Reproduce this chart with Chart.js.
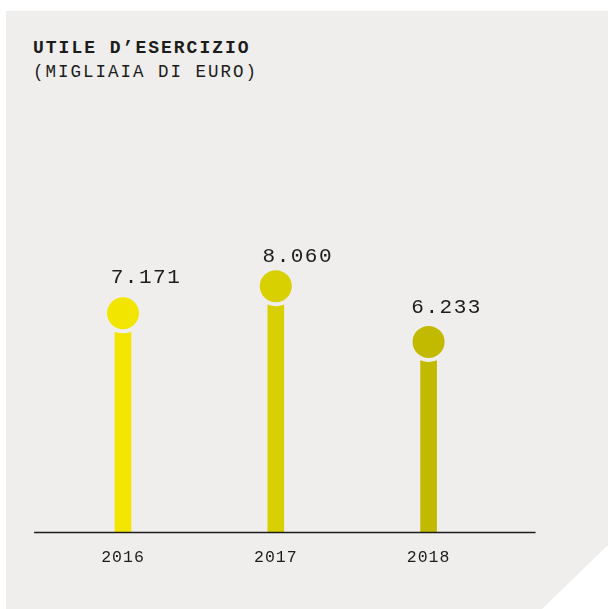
<!DOCTYPE html>
<html lang="it">
<head>
<meta charset="utf-8">
<title>Utile d'esercizio</title>
<script src="https://cdn.jsdelivr.net/npm/chart.js@4"></script>
<style>
  html, body { margin: 0; padding: 0; background: #ffffff; }
  body { width: 608px; height: 609px; position: relative; overflow: hidden; }
  .panel {
    position: absolute; left: 6px; top: 11px; right: 0; bottom: 0;
    background: #efeeec;
    clip-path: polygon(0 0, 100% 0, 100% 534px, 536px 100%, 0 100%);
  }
  .title, .subtitle {
    position: absolute; left: 33px; margin: 0;
    font-family: "Liberation Mono", "DejaVu Sans Mono", monospace;
    color: #1c1c1c; white-space: nowrap;
  }
  .title { top: 38px; font-size: 18px; line-height: 20px; font-weight: bold; letter-spacing: 2px; }
  .subtitle { top: 62px; font-size: 17.5px; line-height: 20px; letter-spacing: 2px; }
  #wrap { position: absolute; left: 0; top: 0; width: 608px; height: 609px; }
</style>
</head>
<body>
<div class="panel"></div>
<div class="title">UTILE D’ESERCIZIO</div>
<div class="subtitle">(MIGLIAIA DI EURO)</div>
<div id="wrap"><canvas id="chart"></canvas></div>

<script>
  const years = ["2016", "2017", "2018"];
  const utile = [7171, 8060, 6233];
  const yellows = ["#f2e600", "#d8d000", "#c2ba00"];

  // where each value label sits relative to its dot (px)
  const labelShiftX = [23, 22, 18];
  const labelLift = [36, 30, 34];

  const PANEL = "#efeeec";
  const INK = "#1c1c1c";
  const MONO = '"Liberation Mono", "DejaVu Sans Mono", monospace';

  // "7.171" style: thousands separated by a dot
  const fmt = (v) => v.toLocaleString("it-IT");

  // baseline longer than the plot area, plus the numbers over each dot
  const lollipopExtras = {
    id: "lollipopExtras",
    beforeDraw(chart) {
      chart.ctx.letterSpacing = "1px";
    },
    afterDatasetsDraw(chart) {
      const { ctx, chartArea } = chart;
      ctx.save();
      ctx.strokeStyle = INK;
      ctx.lineWidth = 1.3;
      ctx.beginPath();
      ctx.moveTo(chartArea.left - 12.5, chartArea.bottom + 0.5);
      ctx.lineTo(chartArea.right + 30.5, chartArea.bottom + 0.5);
      ctx.stroke();

      ctx.font = "21px " + MONO;
      ctx.letterSpacing = "1.5px";
      ctx.fillStyle = INK;
      ctx.textAlign = "center";
      ctx.textBaseline = "middle";
      chart.getDatasetMeta(0).data.forEach((pt, i) => {
        ctx.fillText(fmt(utile[i]), pt.x + labelShiftX[i], pt.y - labelLift[i]);
      });
      ctx.restore();
    },
  };

  new Chart(document.getElementById("chart"), {
    data: {
      labels: years,
      datasets: [
        {
          type: "line",
          data: utile,
          showLine: false,
          pointRadius: 18,
          pointHoverRadius: 18,
          pointBorderWidth: 4,
          pointHoverBorderWidth: 4,
          pointBackgroundColor: yellows,
          pointBorderColor: PANEL,
        },
        {
          type: "bar",
          data: utile,
          backgroundColor: yellows,
          barThickness: 16,
        },
      ],
    },
    options: {
      responsive: true,
      maintainAspectRatio: false,
      animation: false,
      events: [],
      layout: { padding: { left: 46.6, right: 103, top: 227, bottom: 0 } },
      plugins: { legend: { display: false }, tooltip: { enabled: false } },
      scales: {
        x: {
          offset: true,
          grid: { display: false, drawTicks: false },
          border: { display: false },
          ticks: {
            color: INK,
            padding: 16,
            font: { family: MONO, size: 16.5 },
          },
          afterFit(scale) {
            scale.height = 77;
          },
        },
        y: {
          display: false,
          min: 0,
          max: 10000,
        },
      },
    },
    plugins: [lollipopExtras],
  });
</script>
</body>
</html>
